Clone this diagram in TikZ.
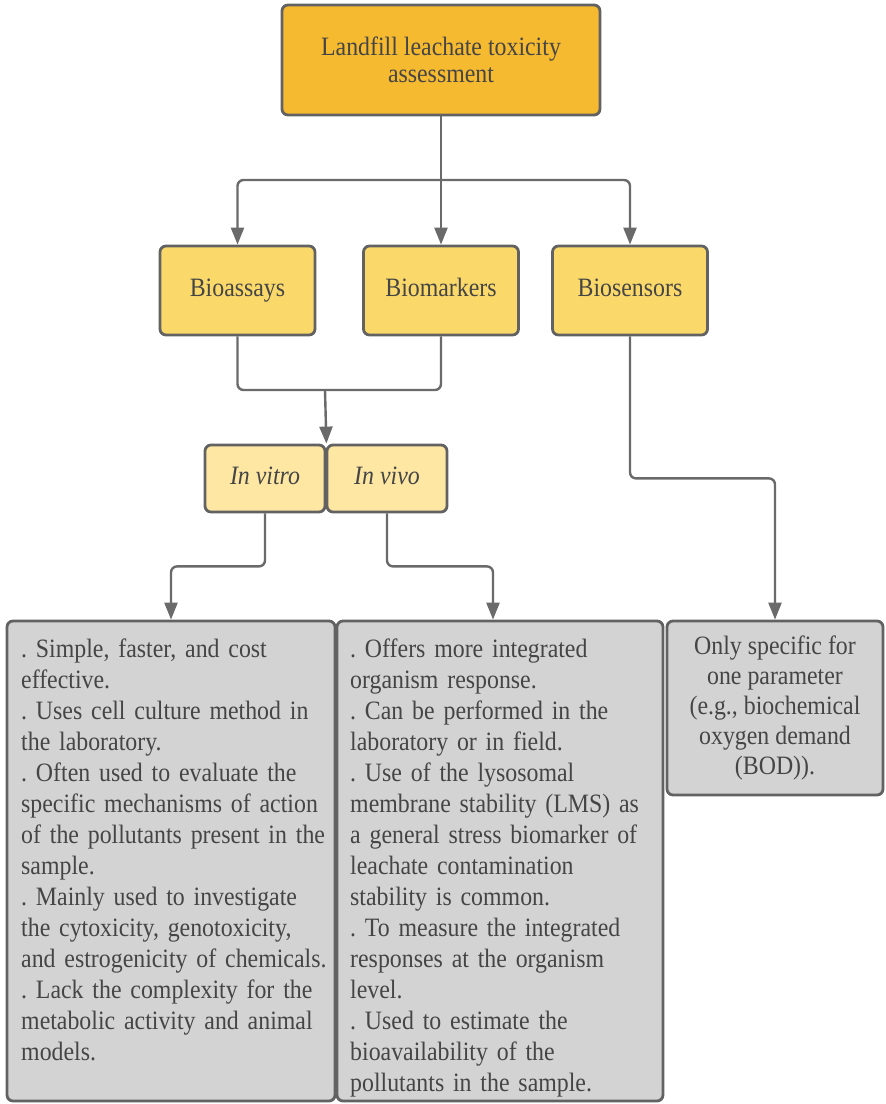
\documentclass[tikz,border=0pt]{standalone}
\usepackage{fontspec}
\setmainfont[FakeStretch=0.9]{Liberation Serif}
\frenchspacing
\usetikzlibrary{arrows.meta}
\definecolor{goldfill}{HTML}{F5BA30}
\definecolor{yellowfill}{HTML}{FAD96A}
\definecolor{palefill}{HTML}{FDE7A3}
\definecolor{greyfill}{HTML}{D3D3D3}
\definecolor{edge}{HTML}{626262}
\definecolor{wire}{HTML}{6A6A6A}
\definecolor{ink}{HTML}{454545}
\begin{document}
\begin{tikzpicture}[x=1pt,y=-1pt,
  box/.style={draw=edge, line width=2.8pt, rounded corners=6pt, inner sep=0pt,
              text=ink, align=center},
  topbox/.style={box, fill=goldfill, minimum width=318pt, minimum height=110pt,
                 font=\fontsize{26.5}{27}\selectfont},
  midbox/.style={box, fill=yellowfill, minimum width=155pt, minimum height=89pt,
                 text height=18pt, text depth=6pt,
                 font=\fontsize{26.5}{30}\selectfont},
  subbox/.style={box, fill=palefill, minimum width=120pt, minimum height=67pt,
                 text height=18pt, text depth=6pt,
                 font=\fontsize{26.5}{30}\selectfont\itshape},
  notebox/.style={box, fill=greyfill},
  notetext/.style={inner sep=0pt, text=ink, text width=320pt, align=left,
                   font=\fontsize{26.5}{31}\selectfont, anchor=base west},
  wireline/.style={draw=wire, line width=2.4pt, rounded corners=6pt},
  arrowline/.style={wireline, -{Triangle[length=17pt,width=13pt]}}]
\useasboundingbox (0,0) rectangle (886,1104);

% boxes
\node[topbox] (top) at (441,60) {Landfill leachate toxicity\\assessment};
\node[midbox] (bioassays) at (237.5,290.5) {Bioassays};
\node[midbox] (biomarkers) at (441,290.5) {Biomarkers};
\node[midbox] (biosensors) at (630,290.5) {Biosensors};
\node[subbox] (invitro) at (265,478.5) {In vitro};
\node[subbox] (invivo) at (387,478.5) {In vivo};
\node[notebox, minimum width=328pt, minimum height=480pt] (box1) at (171,861) {};
\node[notebox, minimum width=326pt, minimum height=480pt] (box2) at (500,861) {};
\node[notebox, minimum width=216pt, minimum height=174pt,
      font=\fontsize{26.5}{30}\selectfont] (box3) at (775,708)
  {Only specific for\\one parameter\\(e.g., biochemical\\oxygen demand\\(BOD)).};

% notes
\node[notetext] (text1) at (21,657) {%
. Simple, faster, and cost\\
effective.\\
. Uses cell culture method in\\
the laboratory.\\
. Often used to evaluate the\\
specific mechanisms of action\\
of the pollutants present in the\\
sample.\\
. Mainly used to investigate\\
the cytoxicity, genotoxicity,\\
and estrogenicity of chemicals.\\
. Lack the complexity for the\\
metabolic activity and animal\\
models.};
\node[notetext] (text2) at (350,657) {%
. Offers more integrated\\
organism response.\\
. Can be performed in the\\
laboratory or in field.\\
. Use of the lysosomal\\
membrane stability (LMS) as\\
a general stress biomarker of\\
leachate contamination\\
stability is common.\\
. To measure the integrated\\
responses at the organism\\
level.\\
. Used to estimate the\\
bioavailability of the\\
pollutants in the sample.};

% connectors
\coordinate (split) at (441,180);
\coordinate (merge) at (325,390);
\draw[wireline] (top.south) -- (split);
\draw[arrowline] (split) -| (bioassays.north);
\draw[arrowline] (split) -- (biomarkers.north);
\draw[arrowline] (split) -| (biosensors.north);
\draw[wireline] (bioassays.south) |- (merge);
\draw[wireline] (biomarkers.south) |- (merge);
\draw[arrowline] (merge) -- (invitro.north east);
\draw[arrowline] (invitro.south) -- ++(0,53) -| (box1.north);
\draw[arrowline] (invivo.south) -- ++(0,53) -| ([xshift=-7pt]box2.north);
\draw[arrowline] (biosensors.south) -- ++(0,142) -| (box3.north);
\end{tikzpicture}
\end{document}
